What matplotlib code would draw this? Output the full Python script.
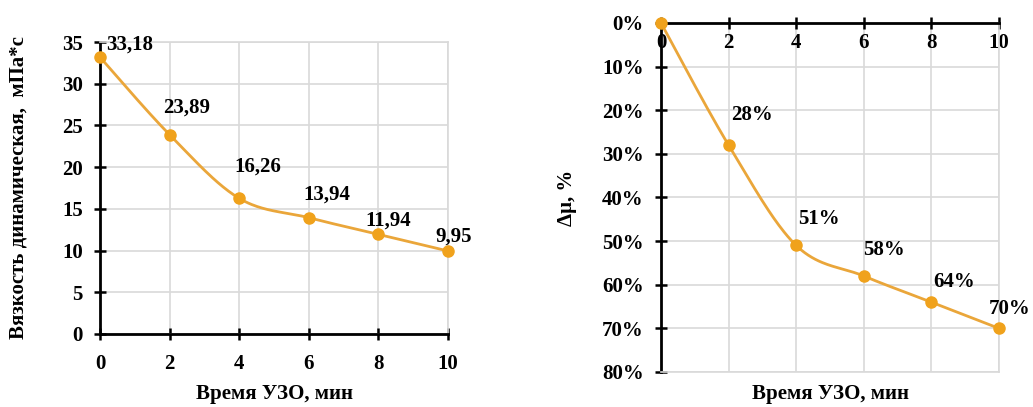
import numpy as np
import matplotlib.pyplot as plt
from matplotlib.ticker import FuncFormatter

plt.rcParams['font.family'] = ['Liberation Serif', 'DejaVu Serif']
plt.rcParams['font.weight'] = 'bold'

# viscosity vs. ultrasonic treatment time
time_min = [0, 2, 4, 6, 8, 10]
viscosity = [33.18, 23.89, 16.26, 13.94, 11.94, 9.95]
visc_labels = ['33,18', '23,89', '16,26', '13,94', '11,94', '9,95']

# relative viscosity drop, %
drop_pct = [0, 28, 51, 58, 64, 70]
drop_labels = ['', '28%', '51%', '58%', '64%', '70%']

# label offsets in pixels (dx, dy)
visc_offsets = [(30, 13), (17, 27), (19, 32), (18, 23), (10, 14), (6, 14)]
drop_offsets = [(0, 0), (23, 30), (23, 26), (20, 26), (23, 20), (11, 19)]

LINE_C = '#EAA63A'
MARK_C = '#F0A21C'
GRID_C = '#D9D9D9'


def smooth(xs, ys, n=40):
    # cubic Bezier segments through the points (smoothed line)
    xs = np.asarray(xs, float)
    ys = np.asarray(ys, float)
    px = np.concatenate([[xs[0]], xs, [xs[-1]]])
    py = np.concatenate([[ys[0]], ys, [ys[-1]]])
    out_x, out_y = [], []
    t = np.linspace(0, 1, n)
    for i in range(1, len(px) - 2):
        p0 = np.array([px[i], py[i]])
        p3 = np.array([px[i + 1], py[i + 1]])
        p1 = p0 + (np.array([px[i + 1], py[i + 1]]) - np.array([px[i - 1], py[i - 1]])) / 6
        p2 = p3 - (np.array([px[i + 2], py[i + 2]]) - np.array([px[i], py[i]])) / 6
        b = ((1 - t) ** 3)[:, None] * p0 + (3 * (1 - t) ** 2 * t)[:, None] * p1 \
            + (3 * (1 - t) * t ** 2)[:, None] * p2 + (t ** 3)[:, None] * p3
        out_x.extend(b[:, 0])
        out_y.extend(b[:, 1])
    return out_x, out_y


def style_axes(ax, dark_sides, light_sides):
    for s in dark_sides:
        ax.spines[s].set_color('black')
        ax.spines[s].set_linewidth(2)
    for s in light_sides:
        ax.spines[s].set_color(GRID_C)
        ax.spines[s].set_linewidth(1.2)
    ax.grid(True, color=GRID_C, linewidth=1.2)
    ax.set_axisbelow(True)
    ax.tick_params(direction='inout', length=9, width=1.8, labelsize=15)


fig = plt.figure(figsize=(10.33, 4.07), dpi=100)

# left panel
ax1 = fig.add_axes([0.0968, 0.1794, 0.3369, 0.7174])
sx, sy = smooth(time_min, viscosity)
ax1.plot(sx, sy, color=LINE_C, lw=2, zorder=3)
ax1.plot(time_min, viscosity, 'o', color=MARK_C, ms=8, zorder=4, clip_on=False)
ax1.set_xlim(0, 10)
ax1.set_ylim(0, 35)
ax1.set_xticks(time_min)
ax1.set_yticks(range(0, 36, 5))
style_axes(ax1, ['left', 'bottom'], ['top', 'right'])
ax1.tick_params(axis='x', pad=10)
ax1.tick_params(axis='y', pad=8)
for x, y, lab, (dx, dy) in zip(time_min, viscosity, visc_labels, visc_offsets):
    ax1.annotate(lab, (x, y), xytext=(dx * 0.72, dy * 0.72), textcoords='offset points',
                 ha='center', va='center', fontsize=15, fontweight='bold', zorder=5)
ax1.set_xlabel('Время УЗО, мин', fontsize=15, fontweight='bold', labelpad=7)
ax1.set_ylabel('Вязкость динамическая,  мПа*с', fontsize=15, fontweight='bold', labelpad=24)

# right panel, inverted percentage axis
ax2 = fig.add_axes([0.6399, 0.0860, 0.3272, 0.8575])
sx, sy = smooth(time_min, drop_pct)
ax2.plot(sx, sy, color=LINE_C, lw=2, zorder=3)
ax2.plot(time_min, drop_pct, 'o', color=MARK_C, ms=8, zorder=4, clip_on=False)
ax2.set_xlim(0, 10)
ax2.set_ylim(80, 0)
ax2.set_xticks(time_min)
ax2.set_yticks(range(0, 81, 10))
ax2.yaxis.set_major_formatter(FuncFormatter(lambda v, p: f'{v:.0f}%'))
style_axes(ax2, ['left', 'top'], ['bottom', 'right'])
ax2.tick_params(axis='x', top=True, bottom=False, labeltop=True, labelbottom=False, pad=-26)
ax2.tick_params(axis='y', pad=8)
for x, y, lab, (dx, dy) in zip(time_min, drop_pct, drop_labels, drop_offsets):
    if lab:
        ax2.annotate(lab, (x, y), xytext=(dx * 0.72, dy * 0.72), textcoords='offset points',
                     ha='center', va='center', fontsize=15, fontweight='bold', zorder=5)
ax2.set_xlabel('Время УЗО, мин', fontsize=15, fontweight='bold', labelpad=9)
ax2.set_ylabel('Δμ, %', fontsize=15, fontweight='bold', labelpad=18)

fig.savefig('out.png', dpi=100, facecolor='white')
